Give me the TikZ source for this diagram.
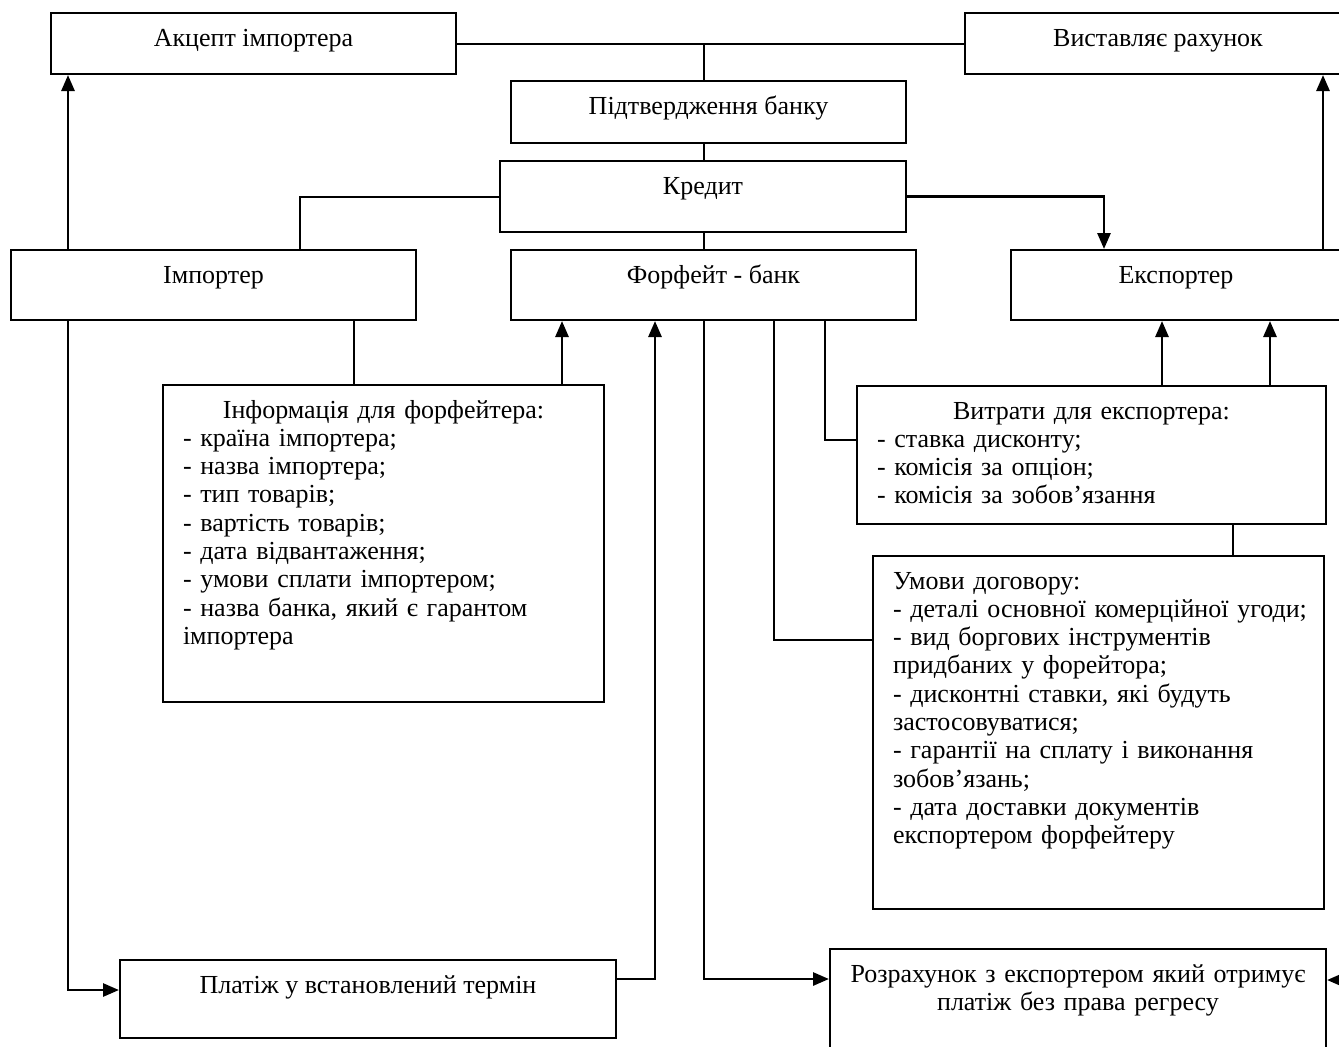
\documentclass[tikz,border=0pt]{standalone}
\usepackage{fontspec}
\setmainfont{Liberation Serif}
\usetikzlibrary{arrows.meta}

\begin{document}
\begin{tikzpicture}[x=0.5pt, y=-0.5pt,
    every node/.style={draw, line width=1pt, rectangle, anchor=north west, inner ysep=0pt, inner xsep=10pt, text height=16.5pt, font=\fontsize{13}{14.15}\selectfont},
    box/.style 2 args={minimum width=#1, text depth=#2, align=center},
    listbox/.style 2 args={text width=#1, text depth=#2, align=left},
    link/.style={line width=1pt},
    arr/.style={line width=1.4pt, -{Triangle[length=8pt, width=6.5pt]}}]
    \useasboundingbox (0,0) rectangle (1339,1046);
    \clip (0,0) rectangle (1339,1046);

    \node[box={202.5pt}{14pt}] (akc) at (50,12) {Акцепт імпортера};
    \node[box={193pt}{14pt}] (vyst) at (964,12) {Виставляє рахунок};
    \node[box={197.5pt}{14.5pt}] (pidt) at (510,80) {Підтвердження банку};
    \node[box={203pt}{19pt}] (kred) at (499,160) {Кредит};
    \node[box={202.5pt}{18.5pt}] (imp) at (10,249) {Імпортер};
    \node[box={202.5pt}{18.5pt}] (forf) at (510,249) {Форфейт - банк};
    \node[box={165pt}{18.5pt}] (exp) at (1010,249) {Експортер};
    \node[listbox={200.5pt}{142pt}] (info) at (162,384) {\makebox[\linewidth]{Інформація для форфейтера:}\\
        - країна імпортера;\\ - назва імпортера;\\ - тип товарів;\\ - вартість товарів;\\
        - дата відвантаження;\\ - умови сплати імпортером;\\ - назва банка, який є гарантом\\ імпортера};
    \node[listbox={214.5pt}{52.5pt}] (vytr) at (856,385) {\makebox[\linewidth]{Витрати для експортера:}\\
        - ставка дисконту;\\ - комісія за опціон;\\ - комісія за зобов’язання};
    \node[listbox={205.5pt}{160pt}] (umovy) at (872,555) {Умови договору:\\
        \mbox{- деталі основної комерційної угоди;}\\ - вид боргових інструментів\\ придбаних у форейтора;\\
        - дисконтні ставки, які будуть\\ застосовуватися;\\ - гарантії на сплату і виконання\\ зобов’язань;\\
        - дата доставки документів\\ експортером форфейтеру};
    \node[box={248pt}{22.5pt}] (plat) at (119,959) {Платіж у встановлений термін};
    \node[listbox={228pt}{58.5pt}, align=center] (rozr) at (829,948) {Розрахунок з експортером який отримує\\ платіж без права регресу};

    \foreach \x in {68,300,354,562,655,704,774,825,1104,1162,1233,1270,1323}
        \coordinate (v\x) at (\x,0);
    \foreach \y in {440,640,979,990}
        \coordinate (h\y) at (0,\y);
    \coordinate (rgt) at (1352,980);

    \draw[link] (akc.east) -- (vyst.west);
    \draw[link] (akc.east -| v704) -- (pidt.north -| v704);
    \draw[link] (pidt.south -| v704) -- (kred.north -| v704);
    \draw[link] (kred.south -| v704) -- (forf.north -| v704);
    \draw[link] (kred.west) -| (imp.north -| v300);
    \draw[arr] (kred.east) -| (exp.north -| v1104);
    \draw[arr] (imp.north -| v68) -- (akc.south -| v68);
    \draw[arr] (exp.north -| v1323) -- (vyst.south -| v1323);
    \draw[link] (imp.south -| v354) -- (info.north -| v354);
    \draw[arr] (info.north -| v562) -- (forf.south -| v562);
    \draw[arr] (imp.south -| v68) |- (plat.west |- h990);
    \draw[arr] (plat.east |- h979) -| (forf.south -| v655);
    \draw[arr] (forf.south -| v704) |- (rozr.west |- h979);
    \draw[link] (forf.south -| v774) |- (umovy.west |- h640);
    \draw[link] (forf.south -| v825) |- (vytr.west |- h440);
    \foreach \x in {1162,1270}
        \draw[arr] (vytr.north -| v\x) -- (exp.south -| v\x);
    \draw[link] (vytr.south -| v1233) -- (umovy.north -| v1233);
    \draw[arr] (rgt) -- (rozr.east |- rgt);
\end{tikzpicture}
\end{document}
